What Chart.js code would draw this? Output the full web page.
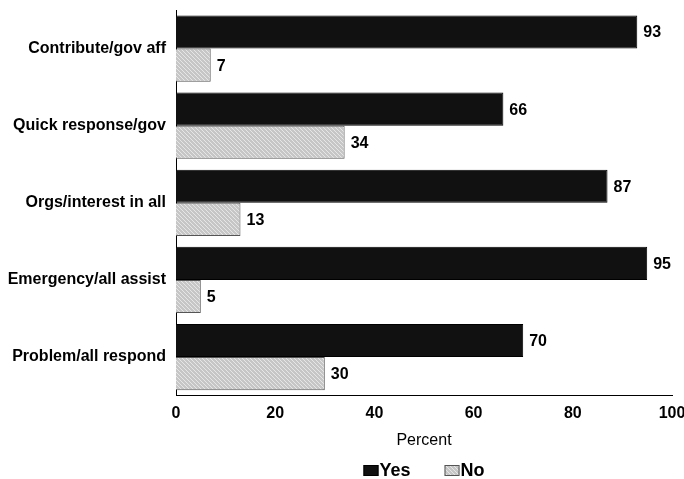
<!DOCTYPE html>
<html>
<head>
<meta charset="utf-8">
<script src="https://cdn.jsdelivr.net/npm/chart.js@4"></script>
<style>
  html, body { margin: 0; padding: 0; background: #fff; }
  #wrap { width: 684px; height: 479px; }
</style>
</head>
<body>
<div id="wrap"><canvas id="chart" width="684" height="479"></canvas></div>
<script>
var categories = ['Contribute/gov aff', 'Quick response/gov', 'Orgs/interest in all', 'Emergency/all assist', 'Problem/all respond'];
var yesValues = [93, 66, 87, 95, 70];
var noValues = [7, 34, 13, 5, 30];
var xTicks = [0, 20, 40, 60, 80, 100];

var FONT = '"Liberation Sans", Arial, sans-serif';

// light grey hatch for the "No" bars
function hatch() {
    var c = document.createElement('canvas');
    c.width = 4; c.height = 4;
    var g = c.getContext('2d');
    g.fillStyle = '#c6c6c6';
    g.fillRect(0, 0, 4, 4);
    g.fillStyle = '#e6e6e6';
    for (var i = 0; i < 4; i++) g.fillRect(i, i, 1, 1);
    return g.createPattern(c, 'repeat');
}

var valueLabels = {
    id: 'valueLabels',
    afterDatasetsDraw: function(chart) {
        var ctx = chart.ctx;
        ctx.save();
        ctx.font = 'bold 16px ' + FONT;
        ctx.fillStyle = '#000';
        ctx.textAlign = 'left';
        ctx.textBaseline = 'middle';
        chart.data.datasets.forEach(function(ds, i) {
            chart.getDatasetMeta(i).data.forEach(function(bar, j) {
                ctx.fillText(ds.data[j], bar.x + 6, bar.y + 1);
            });
        });
        ctx.restore();
    }
};

// legend: small box tight against its text, centred under the plot
var bottomLegend = {
    id: 'bottomLegend',
    afterDraw: function(chart) {
        var ctx = chart.ctx;
        var area = chart.chartArea;
        ctx.save();
        ctx.font = 'bold 18px ' + FONT;
        ctx.textBaseline = 'alphabetic';
        ctx.textAlign = 'left';
        var boxW = 15, boxH = 10, gap = 1, spacing = 34;
        var items = chart.data.datasets.map(function(ds) {
            return { ds: ds, w: boxW + gap + ctx.measureText(ds.label).width };
        });
        var total = items.reduce(function(s, it) { return s + it.w; }, 0) + spacing * (items.length - 1);
        var x = (area.left + area.right) / 2 - total / 2;
        var base = 476;
        items.forEach(function(it) {
            ctx.fillStyle = it.ds.backgroundColor;
            ctx.fillRect(x, base - boxH - 1, boxW, boxH + 1);
            ctx.strokeStyle = it.ds.borderColor;
            ctx.lineWidth = 1;
            ctx.strokeRect(x + 0.5, base - boxH - 0.5, boxW - 1, boxH);
            ctx.fillStyle = '#000';
            ctx.fillText(it.ds.label, x + boxW + gap, base);
            x += it.w + spacing;
        });
        ctx.restore();
    }
};

var ctx = document.getElementById('chart').getContext('2d');
var chart = new Chart(ctx, {
    type: 'bar',
    data: {
        labels: categories,
        datasets: [{
            label: 'Yes',
            data: yesValues,
            backgroundColor: '#111111',
            borderColor: '#000000',
            borderWidth: 1,
            categoryPercentage: 0.86,
            barPercentage: 1.0
        }, {
            label: 'No',
            data: noValues,
            backgroundColor: hatch(),
            borderColor: '#555555',
            borderWidth: 1,
            categoryPercentage: 0.86,
            barPercentage: 1.0
        }]
    },
    options: {
        indexAxis: 'y',
        responsive: false,
        animation: false,
        layout: { padding: { left: 0, right: 12, top: 10, bottom: 25 } },
        scales: {
            x: {
                min: 0,
                max: 100,
                afterBuildTicks: function(scale) {
                    scale.ticks = xTicks.map(function(v) { return { value: v }; });
                },
                afterFit: function(scale) {
                    scale.paddingLeft = 0;
                    scale.paddingRight = 0;
                },
                grid: { display: false, drawTicks: false },
                border: { display: true, color: '#000', width: 1 },
                ticks: {
                    color: '#000',
                    padding: 8,
                    maxRotation: 0,
                    font: { family: FONT, size: 16, weight: 'bold' }
                },
                title: {
                    display: true,
                    text: 'Percent',
                    color: '#000',
                    padding: { top: 0, bottom: 4 },
                    font: { family: FONT, size: 16 }
                }
            },
            y: {
                afterFit: function(scale) {
                    scale.width = 176;
                    scale.paddingTop = 0;
                    scale.paddingBottom = 0;
                },
                grid: { display: false, drawTicks: false },
                border: { display: true, color: '#000', width: 1 },
                ticks: {
                    color: '#000',
                    padding: 10,
                    font: { family: FONT, size: 16, weight: 'bold' }
                }
            }
        },
        plugins: {
            tooltip: { enabled: false },
            legend: { display: false }
        }
    },
    plugins: [valueLabels, bottomLegend]
});
</script>
</body>
</html>
